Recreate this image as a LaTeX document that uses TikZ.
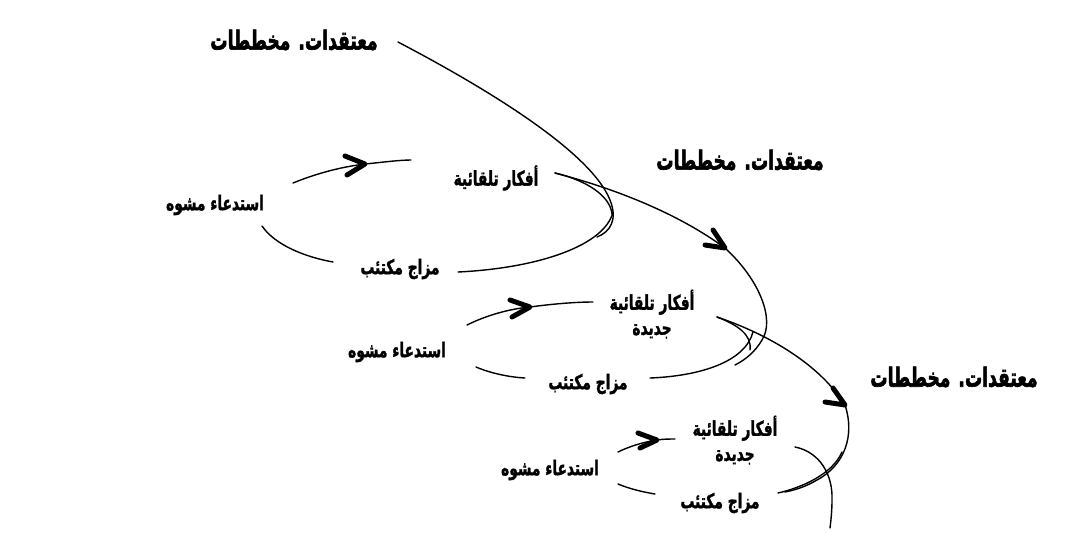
\documentclass[tikz,border=0pt]{standalone}
\usepackage{fontspec}
\usepackage{graphicx}
\newfontfamily\arabicfont[Script=Arabic, FakeBold=1.8]{DejaVu Sans Bold}
\newfontfamily\arabictitle[Script=Arabic, FakeBold=2.6]{DejaVu Sans Bold}
\TeXXeTstate=1
\newcommand\artxt[1]{\scalebox{0.92}[1.35]{\beginR #1\endR}}
\newcommand\arttl[1]{\scalebox{0.88}[1.35]{\beginR #1\endR}}
\tikzset{
  lbl/.style={font=\arabicfont\fontsize{15}{25}\selectfont, align=center, inner sep=0pt},
  ttl/.style={font=\arabictitle\fontsize{19.5}{24}\selectfont, inner sep=0pt},
  curve/.style={line width=1.4pt, line cap=round},
  barb/.style={line width=5pt, line cap=round, line join=round}
}
\begin{document}
\begin{tikzpicture}[x=1pt,y=-1pt]
\useasboundingbox (0,0) rectangle (1086,558);
% titles
\node[ttl] (t1) at (294,40) {\arttl{معتقدات. مخططات}};
\node[ttl] (t2) at (740,160) {\arttl{معتقدات. مخططات}};
\node[ttl] (t3) at (954,377) {\arttl{معتقدات. مخططات}};
% cycle 1
\node[lbl] (a1) at (496,178) {\artxt{أفكار تلقائية}};
\node[lbl] (r1) at (215,205) {\artxt{استدعاء مشوه}};
\node[lbl] (m1) at (400,269) {\artxt{مزاج مكتئب}};
% cycle 2
\node[lbl] (a2) at (652,314) {\artxt{أفكار تلقائية}\\\artxt{جديدة}};
\node[lbl] (r2) at (397,352) {\artxt{استدعاء مشوه}};
\node[lbl] (m2) at (588,384) {\artxt{مزاج مكتئب}};
% cycle 3
\node[lbl] (a3) at (735,440) {\artxt{أفكار تلقائية}\\\artxt{جديدة}};
\node[lbl] (r3) at (550,470) {\artxt{استدعاء مشوه}};
\node[lbl] (m3) at (720,503) {\artxt{مزاج مكتئب}};

% key points
\coordinate (t1s) at (398,42);
\coordinate (a1s) at (555,173);
\coordinate (m1s) at (458,272);
\coordinate (p1) at (725,248);
\coordinate (a2s) at (717,317);
\coordinate (m2s) at (650,378);
\coordinate (p2) at (845,405);
\coordinate (a3s) at (795,447);
\coordinate (m3s) at (778,493);
\coordinate (endpt) at (830,528);
\coordinate (q1) at (365,164);
\coordinate (q2) at (530,307);
\coordinate (q3) at (657,440);

% cycle 1 loop
\draw[curve] (293,183) .. controls (315,174) and (340,167) .. (q1)
             .. controls (385,162) and (400,160) .. (411,160);
\draw[curve] (262,226) .. controls (275,245) and (305,257) .. (333,262);
\draw[curve] (m1s) .. controls (540,268) and (605,245) .. (613,212);
\draw[curve] (t1s) .. controls (480,85) and (590,150) .. (610,200)
             .. controls (618,220) and (610,232) .. (597,237);
\draw[curve] (a1s) .. controls (585,180) and (610,195) .. (612,214);
\draw[curve] (a1s) .. controls (620,190) and (680,215) .. (p1)
             .. controls (760,280) and (775,320) .. (762,340)
             .. controls (755,352) and (745,360) .. (735,365);

% cycle 2 loop
\draw[curve] (467,325) .. controls (485,316) and (508,309) .. (q2)
             .. controls (552,304) and (575,302) .. (593,302);
\draw[curve] (476,367) .. controls (490,373) and (508,377) .. (525,378);
\draw[curve] (m2s) .. controls (700,376) and (745,362) .. (753,332);
\draw[curve] (a2s) .. controls (738,325) and (752,335) .. (750,350);
\draw[curve] (a2s) .. controls (770,335) and (820,365) .. (p2)
             .. controls (855,435) and (845,465) .. (817,480)
             .. controls (805,487) and (795,490) .. (785,492);

% cycle 3 loop
\draw[curve] (618,452) .. controls (628,447) and (643,442) .. (q3)
             .. controls (663,439) and (670,439) .. (675,439);
\draw[curve] (618,484) .. controls (630,489) and (643,492) .. (655,494);
\draw[curve] (m3s) .. controls (800,488) and (832,475) .. (842,452);
\draw[curve] (a3s) .. controls (820,452) and (833,475) .. (832,500)
             .. controls (832,510) and (831,520) .. (endpt);

% arrowheads (hand-drawn barbs)
\draw[barb] (345,156) -- (q1) -- (347,175);
\draw[barb] (705,245) -- (p1) -- (713,230);
\draw[barb] (510,300) -- (q2) -- (512,317);
\draw[barb] (825,402) -- (p2) -- (833,388);
\draw[barb] (638,433) -- (q3) -- (640,448);
\end{tikzpicture}
\end{document}
